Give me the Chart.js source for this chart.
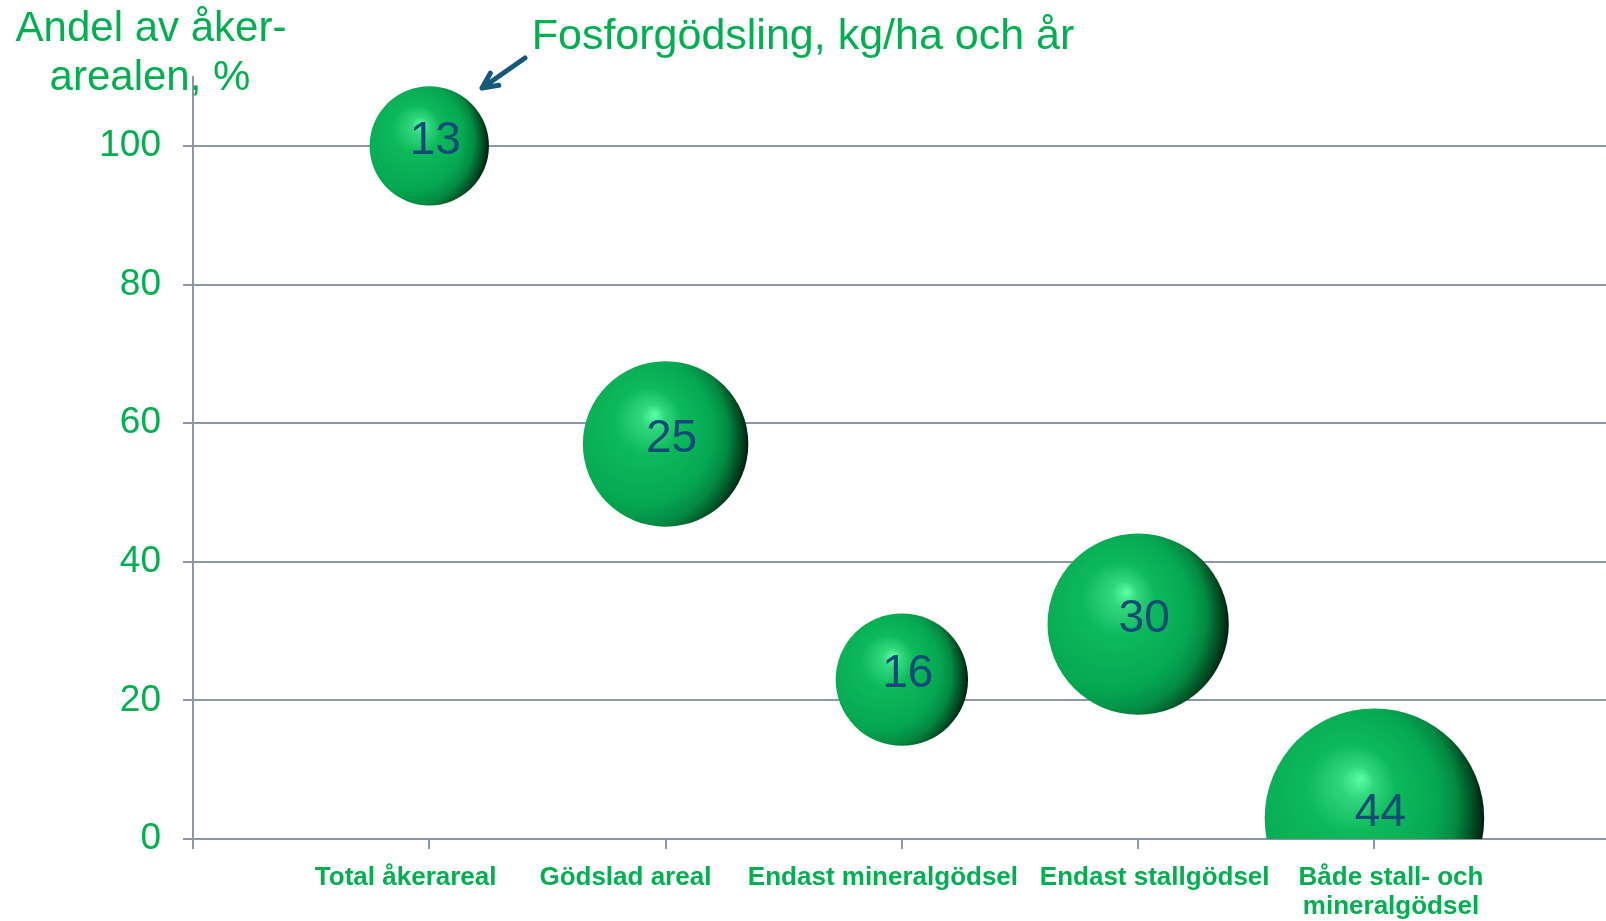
<!DOCTYPE html>
<html>
<head>
<meta charset="utf-8">
<script src="https://cdn.jsdelivr.net/npm/chart.js@4/dist/chart.umd.min.js"></script>
<style>
  body { margin: 0; background: #fff; }
  #wrap { width: 1606px; height: 921px; }
</style>
</head>
<body>
<div id="wrap"><canvas id="bubbleChart" width="1606" height="921"></canvas></div>
<script>
// chart data
const categories = ["Total åkerareal", "Gödslad areal", "Endast mineralgödsel", "Endast stallgödsel", ["Både stall- och", "mineralgödsel"]];
const xPositions = [1, 2, 3, 4, 5];
const shareOfArea = [100, 57, 23, 31, 3];        // y: andel av åkerarealen, %
const phosphorus = [13, 25, 16, 30, 44];          // bubble size: kg/ha och år
const yTicks = [0, 20, 40, 60, 80, 100];
const xTicks = [0, 1, 2, 3, 4, 5];
// category text sits a little off the tick marks in the original
const labelPositions = [0.9, 1.83, 2.92, 4.07, 5.07];

const green = "#00B050";
const gridColor = "#8C96A5";
const numberColor = "#134A78";
const fontFamily = "Arial, 'Liberation Sans', sans-serif";

// bubble radius scales with the square root of the value (area-proportional)
const sizeScale = 16.55;

const points = xPositions.map((x, i) => ({
    x: x,
    y: shareOfArea[i],
    r: sizeScale * Math.sqrt(phosphorus[i])
}));

// 3D-looking sphere fill, computed from the element's scaled position
function sphereFill(ctx) {
    if (ctx.type !== "data") return green;
    const chart = ctx.chart;
    const i = ctx.dataIndex;
    const cx = chart.scales.x.getPixelForValue(xPositions[i]);
    const cy = chart.scales.y.getPixelForValue(shareOfArea[i]);
    const r = sizeScale * Math.sqrt(phosphorus[i]);
    if (!isFinite(cx) || !isFinite(cy)) return green;
    const g = chart.ctx.createRadialGradient(
        cx - 0.12 * r, cy - 0.36 * r, 0,
        cx - 0.45 * r, cy - 0.05 * r, 1.45 * r
    );
    g.addColorStop(0, "#5CFFA6");
    g.addColorStop(0.1, "#30D87C");
    g.addColorStop(0.28, "#0DB95B");
    g.addColorStop(0.62, "#05A852");
    g.addColorStop(0.78, "#038A42");
    g.addColorStop(0.92, "#014A20");
    g.addColorStop(1, "#00200C");
    return g;
}

// number labels inside the bubbles, y-axis caption and the arrow
const annotations = {
    id: "annotations",
    afterDatasetsDraw(chart) {
        const c = chart.ctx;
        const meta = chart.getDatasetMeta(0);
        c.save();
        c.font = "46px " + fontFamily;
        c.fillStyle = numberColor;
        c.textAlign = "center";
        c.textBaseline = "middle";
        meta.data.forEach((el, i) => {
            c.fillText(String(phosphorus[i]), el.x + 6, el.y - 5);
        });
        c.restore();
    },
    afterDraw(chart) {
        const c = chart.ctx;
        c.save();
        c.font = "42px " + fontFamily;
        c.fillStyle = green;
        c.textAlign = "center";
        c.textBaseline = "alphabetic";
        c.fillText("Andel av åker-", 151, 41);
        c.fillText("arealen, %", 150, 90);

        // arrow pointing at the first bubble
        const x1 = 525, y1 = 58, x2 = 482, y2 = 88;
        const ang = Math.atan2(y2 - y1, x2 - x1);
        c.strokeStyle = "#17597C";
        c.lineWidth = 5;
        c.lineCap = "round";
        c.lineJoin = "round";
        c.beginPath();
        c.moveTo(x1, y1);
        c.lineTo(x2, y2);
        c.moveTo(x2 + 17 * Math.cos(ang + Math.PI - 0.45), y2 + 17 * Math.sin(ang + Math.PI - 0.45));
        c.lineTo(x2, y2);
        c.lineTo(x2 + 17 * Math.cos(ang + Math.PI + 0.45), y2 + 17 * Math.sin(ang + Math.PI + 0.45));
        c.stroke();
        c.restore();
    }
};

const xMin = 0, xMax = 5.98;

const chart = new Chart(document.getElementById("bubbleChart").getContext("2d"), {
    type: "bubble",
    data: {
        datasets: [{
            label: "Fosforgödsling, kg/ha och år",
            data: points,
            backgroundColor: sphereFill,
            borderWidth: 0,
            clip: 0
        }]
    },
    options: {
        responsive: false,
        animation: false,
        events: [],
        layout: { autoPadding: false, padding: 0 },
        plugins: {
            legend: { display: false },
            tooltip: { enabled: false },
            title: {
                display: true,
                text: "Fosforgödsling, kg/ha och år",
                color: green,
                font: { family: fontFamily, size: 43, weight: "normal", lineHeight: 1.2 },
                padding: { top: 11, bottom: 14 }
            }
        },
        scales: {
            // value axis with tick marks at the categories
            x: {
                type: "linear",
                position: "bottom",
                weight: 0,
                min: xMin,
                max: xMax,
                afterBuildTicks(scale) {
                    scale.ticks = xTicks.map(v => ({ value: v }));
                },
                afterFit(scale) {
                    scale.height = 10;
                },
                grid: {
                    drawOnChartArea: false,
                    drawTicks: true,
                    tickLength: 10,
                    color: gridColor,
                    lineWidth: 2
                },
                border: { display: true, color: gridColor, width: 2 },
                ticks: { display: false }
            },
            // category names
            xLabels: {
                type: "linear",
                position: "bottom",
                weight: 1,
                min: xMin,
                max: xMax,
                afterBuildTicks(scale) {
                    scale.ticks = labelPositions.map(v => ({ value: v }));
                },
                afterFit(scale) {
                    scale.height = 72;
                },
                grid: { display: false, drawTicks: false },
                border: { display: false },
                ticks: {
                    autoSkip: false,
                    maxRotation: 0,
                    padding: 14,
                    color: green,
                    font: { family: fontFamily, size: 26, weight: "bold", lineHeight: 1.12 },
                    callback: (v, i) => categories[i]
                }
            },
            y: {
                min: 0,
                max: 110,
                afterBuildTicks(scale) {
                    scale.ticks = yTicks.map(v => ({ value: v }));
                },
                afterFit(scale) {
                    scale.width = 193;
                },
                grid: {
                    drawTicks: true,
                    tickLength: 10,
                    color: gridColor,
                    lineWidth: 2
                },
                border: { display: true, color: gridColor, width: 2 },
                ticks: {
                    padding: 22,
                    color: green,
                    font: { family: fontFamily, size: 37 }
                }
            }
        }
    },
    plugins: [annotations]
});
</script>
</body>
</html>
